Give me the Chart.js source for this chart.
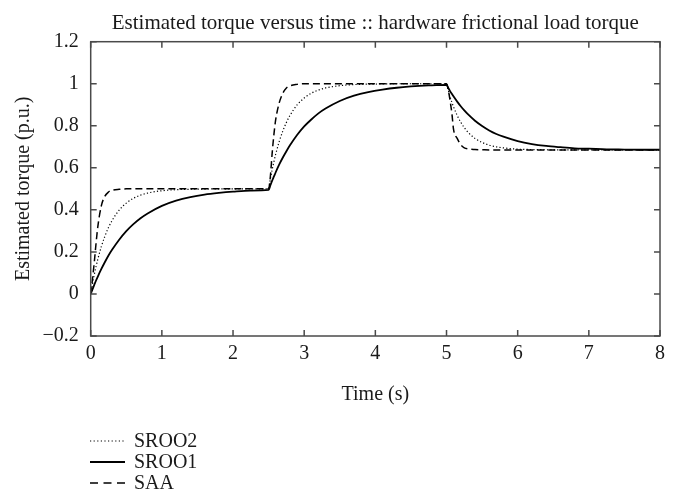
<!DOCTYPE html>
<html>
<head>
<meta charset="utf-8">
<script src="https://cdn.jsdelivr.net/npm/chart.js@4.4.1/dist/chart.umd.min.js"></script>
<style>
  html, body { margin: 0; padding: 0; background: #ffffff; }
  #wrap { width: 673px; height: 497px; }
</style>
</head>
<body>
<div id="wrap"><canvas id="c" width="673" height="497"></canvas></div>
<script>
// Time samples (s)
const timeS = [0, 0.025, 0.05, 0.075, 0.1, 0.15, 0.2, 0.25, 0.3, 0.4, 0.5, 0.6, 0.7, 0.8, 1.0, 1.2, 1.4, 1.6, 1.8, 2.0, 2.25, 2.5,
  2.525, 2.55, 2.575, 2.6, 2.65, 2.7, 2.75, 2.8, 2.9, 3.0, 3.1, 3.2, 3.3, 3.5, 3.7, 3.9, 4.1, 4.3, 4.5, 4.75, 5.0,
  5.025, 5.05, 5.075, 5.1, 5.15, 5.2, 5.25, 5.3, 5.4, 5.5, 5.6, 5.7, 5.8, 6.0, 6.2, 6.4, 6.6, 6.8, 7.0, 7.25, 7.5, 7.75, 8.0];

// Estimated torque (p.u.) for each observer
const sroo2 = [0, 0.048, 0.091, 0.130, 0.165, 0.226, 0.275, 0.316, 0.349, 0.399, 0.432, 0.455, 0.470, 0.480, 0.491, 0.496, 0.498, 0.499, 0.500, 0.500, 0.500, 0.500,
  0.548, 0.591, 0.630, 0.665, 0.726, 0.775, 0.816, 0.849, 0.899, 0.932, 0.955, 0.970, 0.980, 0.991, 0.996, 0.998, 0.999, 1.000, 1.000, 1.000, 1.000,
  0.968, 0.938, 0.912, 0.889, 0.849, 0.817, 0.791, 0.770, 0.740, 0.721, 0.708, 0.700, 0.695, 0.689, 0.687, 0.686, 0.685, 0.685, 0.685, 0.685, 0.685, 0.685, 0.685];

const sroo1 = [0, 0.022, 0.043, 0.064, 0.083, 0.119, 0.152, 0.183, 0.210, 0.258, 0.299, 0.332, 0.360, 0.383, 0.419, 0.444, 0.461, 0.473, 0.481, 0.487, 0.492, 0.495,
  0.517, 0.539, 0.559, 0.579, 0.616, 0.649, 0.679, 0.707, 0.756, 0.797, 0.830, 0.859, 0.882, 0.918, 0.943, 0.960, 0.972, 0.981, 0.987, 0.992, 0.995,
  0.980, 0.965, 0.952, 0.939, 0.915, 0.893, 0.873, 0.855, 0.824, 0.799, 0.778, 0.761, 0.748, 0.727, 0.713, 0.704, 0.698, 0.693, 0.691, 0.688, 0.687, 0.686, 0.686];

const saa = [0, 0.070, 0.150, 0.240, 0.320, 0.420, 0.465, 0.485, 0.493, 0.498, 0.500, 0.500, 0.500, 0.500, 0.500, 0.500, 0.500, 0.500, 0.500, 0.500, 0.500, 0.500,
  0.560, 0.670, 0.760, 0.830, 0.910, 0.955, 0.980, 0.990, 0.997, 1.000, 1.000, 1.000, 1.000, 1.000, 1.000, 1.000, 1.000, 1.000, 1.000, 1.000, 1.000,
  0.970, 0.920, 0.860, 0.780, 0.740, 0.710, 0.695, 0.690, 0.687, 0.686, 0.685, 0.685, 0.685, 0.685, 0.685, 0.685, 0.685, 0.685, 0.685, 0.685, 0.685, 0.685, 0.685];

const seriesNames = ['SROO2', 'SROO1', 'SAA'];
const xTicks = [0, 1, 2, 3, 4, 5, 6, 7, 8];
const yTicks = [-0.2, 0, 0.2, 0.4, 0.6, 0.8, 1, 1.2];

const FONT = "'Liberation Serif', 'DejaVu Serif', serif";
const INK = '#1a1a1a';
const FRAME = '#4a4a4a';

const toPoints = ys => timeS.map((t, i) => ({ x: t, y: ys[i] }));

// Full box around the plot with short inward ticks on all four sides
const framePlugin = {
  id: 'frame',
  afterDatasetsDraw(chart) {
    const { ctx, chartArea: a, scales: { x, y } } = chart;
    ctx.save();
    ctx.strokeStyle = FRAME;
    ctx.lineWidth = 1.5;
    ctx.strokeRect(a.left, a.top, a.right - a.left, a.bottom - a.top);
    const len = 6;
    ctx.beginPath();
    xTicks.forEach(v => {
      const px = x.getPixelForValue(v);
      ctx.moveTo(px, a.bottom); ctx.lineTo(px, a.bottom - len);
      ctx.moveTo(px, a.top); ctx.lineTo(px, a.top + len);
    });
    yTicks.forEach(v => {
      const py = y.getPixelForValue(v);
      ctx.moveTo(a.left, py); ctx.lineTo(a.left + len, py);
      ctx.moveTo(a.right, py); ctx.lineTo(a.right - len, py);
    });
    ctx.stroke();
    ctx.restore();
  }
};

// Stacked legend under the axis title, one entry per row
const stackedLegend = {
  id: 'stackedLegend',
  afterDraw(chart) {
    const { ctx } = chart;
    const x0 = 90, x1 = 125, tx = 134, rowY = [441, 462, 483];
    ctx.save();
    chart.data.datasets.forEach((ds, i) => {
      const yy = rowY[i];
      ctx.strokeStyle = '#000';
      ctx.lineWidth = ds.borderWidth;
      ctx.setLineDash(ds.legendDash || []);
      ctx.beginPath();
      ctx.moveTo(x0, yy); ctx.lineTo(x1, yy);
      ctx.stroke();
      ctx.setLineDash([]);
      ctx.fillStyle = INK;
      ctx.font = '20px ' + FONT;
      ctx.textBaseline = 'middle';
      ctx.textAlign = 'left';
      ctx.fillText(ds.label, tx, yy + 1);
    });
    ctx.restore();
  }
};

new Chart(document.getElementById('c'), {
  type: 'line',
  data: {
    datasets: [
      { label: seriesNames[0], data: toPoints(sroo2), borderColor: '#000', borderWidth: 1.2, borderDash: [1.2, 2.2], legendDash: [1.2, 2.4] },
      { label: seriesNames[1], data: toPoints(sroo1), borderColor: '#000', borderWidth: 1.8 },
      { label: seriesNames[2], data: toPoints(saa), borderColor: '#000', borderWidth: 1.5, borderDash: [7, 4], legendDash: [8, 5.5] }
    ]
  },
  options: {
    responsive: false,
    animation: false,
    events: [],
    parsing: true,
    elements: { point: { radius: 0 }, line: { cubicInterpolationMode: 'monotone', fill: false } },
    layout: { padding: { left: 0, right: 13, top: 0, bottom: 90 } },
    plugins: {
      legend: { display: false },
      tooltip: { enabled: false },
      title: {
        display: true,
        fullSize: false,
        text: 'Estimated torque versus time :: hardware frictional load torque',
        color: INK,
        font: { family: FONT, size: 21, weight: 'normal' },
        padding: { top: 11, bottom: 5.5 }
      }
    },
    scales: {
      x: {
        type: 'linear',
        min: 0, max: 8,
        afterBuildTicks: s => { s.ticks = xTicks.map(v => ({ value: v })); },
        afterFit: s => { s.height = 71; },
        grid: { display: false, drawTicks: false },
        border: { display: false },
        ticks: { color: INK, font: { family: FONT, size: 20 }, padding: 6, maxRotation: 0 },
        title: { display: true, text: 'Time (s)', color: INK, font: { family: FONT, size: 20 }, padding: { top: 0, bottom: 0 } }
      },
      y: {
        type: 'linear',
        min: -0.2, max: 1.2,
        afterBuildTicks: s => { s.ticks = yTicks.map(v => ({ value: v })); },
        afterFit: s => { s.width = 90.7; },
        grid: { display: false, drawTicks: false },
        border: { display: false },
        ticks: {
          color: INK, font: { family: FONT, size: 20 }, padding: 12,
          callback: v => String(Math.round(v * 10) / 10).replace('-', '\u2212')
        },
        title: { display: true, text: 'Estimated torque (p.u.)', color: INK, font: { family: FONT, size: 20 }, padding: { top: 12, bottom: 0 } }
      }
    }
  },
  plugins: [framePlugin, stackedLegend]
});
</script>
</body>
</html>
